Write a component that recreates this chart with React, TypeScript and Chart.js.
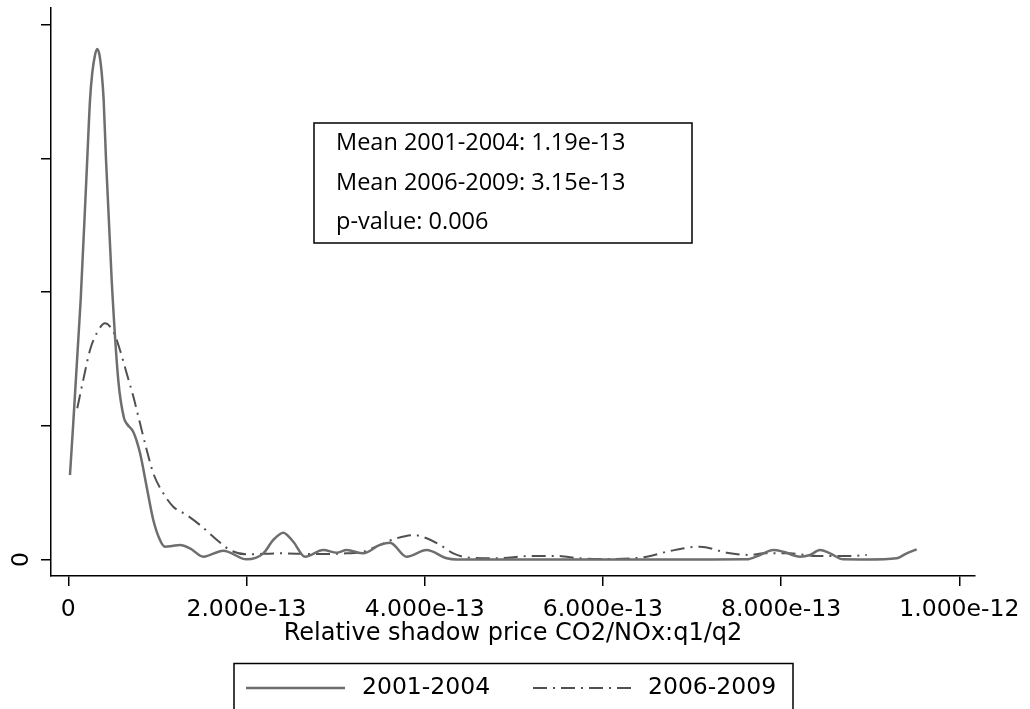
import React, { useEffect, useRef } from "react";
import { Chart, registerables } from "chart.js";

Chart.register(...registerables);

// Kernel density, 2001-2004 (x in units of 1e-13)
const SOLID_X = [
  0.019, 0.139, 0.213, 0.244, 0.269, 0.3, 0.325, 0.35, 0.375, 0.397, 0.423, 0.487,
  0.561, 0.625, 0.659, 0.73, 0.805, 0.88, 0.954, 1.029, 1.085, 1.164, 1.253, 1.366,
  1.515, 1.74, 2.002, 2.189, 2.301, 2.413, 2.525, 2.657, 2.862, 3.012, 3.125, 3.311,
  3.498, 3.611, 3.798, 4.022, 4.247, 4.359, 4.845, 5.967, 7.089, 7.614, 7.763, 7.912,
  8.025, 8.212, 8.324, 8.437, 8.549, 8.698, 8.961, 9.297, 9.41, 9.522,
];
const SOLID_Y = [
  0.632, 1.942, 2.998, 3.439, 3.641, 3.776, 3.821, 3.776, 3.641, 3.439, 2.998, 2.092,
  1.343, 1.059, 1.014, 0.954, 0.797, 0.543, 0.296, 0.146, 0.096, 0.101, 0.109, 0.084,
  0.021, 0.066, 0.001, 0.046, 0.146, 0.201, 0.133, 0.021, 0.071, 0.051, 0.071, 0.046,
  0.109, 0.126, 0.021, 0.071, 0.009, 0, 0, 0, 0, 0.001, 0.034, 0.071,
  0.058, 0.021, 0.034, 0.071, 0.046, 0.001, 0, 0.009, 0.046, 0.076,
];

// Kernel density, 2006-2009
const DASH_X = [
  0.101, 0.168, 0.244, 0.319, 0.412, 0.505, 0.58, 0.655, 0.73, 0.805, 0.88, 0.954,
  1.066, 1.178, 1.329, 1.478, 1.627, 1.815, 2.002, 2.376, 2.75, 3.125, 3.311, 3.498,
  3.686, 3.872, 4.022, 4.172, 4.321, 4.508, 4.808, 5.182, 5.481, 5.743, 6.117, 6.492,
  6.753, 7.09, 7.389, 7.651, 7.8, 8.1, 8.4, 8.774, 8.961,
];
const DASH_Y = [
  1.132, 1.344, 1.568, 1.693, 1.768, 1.705, 1.568, 1.394, 1.219, 1.019, 0.82, 0.645,
  0.496, 0.395, 0.333, 0.258, 0.171, 0.071, 0.039, 0.046, 0.041, 0.046, 0.058, 0.109,
  0.159, 0.183, 0.159, 0.109, 0.046, 0.013, 0.009, 0.026, 0.026, 0.009, 0.004, 0.021,
  0.064, 0.096, 0.051, 0.034, 0.046, 0.046, 0.026, 0.026, 0.034,
];

const SERIES_NAMES = ["2001-2004", "2006-2009"];
const X_TICKS = [0, 2, 4, 6, 8, 10];
const X_TICK_LABELS = ["0", "2.000e-13", "4.000e-13", "6.000e-13", "8.000e-13", "1.000e-12"];
const Y_TICKS = [0, 1, 2, 3, 4];
const Y_TICK_LABELS = ["0", "", "", "", ""];
const X_TITLE = "Relative shadow price CO2/NOx:q1/q2";
const BOX_LINES = ["Mean 2001-2004: 1.19e-13", "Mean 2006-2009: 3.15e-13", "p-value: 0.006"];

const AXIS_FONT = "DejaVu Sans";
const BOX_FONT = "Open Sans";

const overlayPlugin = {
  id: "overlay",
  afterDraw(chart: any) {
    const ctx: CanvasRenderingContext2D = chart.ctx;
    ctx.save();
    // statistics text box
    ctx.strokeStyle = "#000";
    ctx.lineWidth = 1.5;
    ctx.strokeRect(314, 123, 378, 120);
    ctx.fillStyle = "#000";
    ctx.font = `23.5px "${BOX_FONT}"`;
    ctx.textBaseline = "alphabetic";
    ctx.textAlign = "left";
    BOX_LINES.forEach((t, i) => ctx.fillText(t, 336, 150 + i * 39.5));

    // legend box
    ctx.lineWidth = 1.5;
    ctx.strokeRect(234, 663.5, 559, 60);
    const ds = chart.data.datasets;
    const items = [
      { x0: 246, x1: 345, tx: 362 },
      { x0: 533, x1: 632, tx: 648 },
    ];
    items.forEach((it, i) => {
      const d = ds[i];
      ctx.beginPath();
      ctx.strokeStyle = d.borderColor;
      ctx.lineWidth = d.borderWidth;
      ctx.setLineDash(d.borderDash || []);
      ctx.moveTo(it.x0, 688);
      ctx.lineTo(it.x1, 688);
      ctx.stroke();
      ctx.setLineDash([]);
      ctx.fillStyle = "#000";
      ctx.font = `23.5px "${AXIS_FONT}"`;
      ctx.textBaseline = "middle";
      ctx.fillText(SERIES_NAMES[i], it.tx, 688);
    });
    ctx.restore();
  },
};

const zeroPad = (s: any) => {
  s.paddingTop = 0;
  s.paddingBottom = 0;
  s.paddingLeft = 0;
  s.paddingRight = 0;
};

export default function App() {
  const ref = useRef<HTMLCanvasElement | null>(null);

  useEffect(() => {
    if (!ref.current) return;
    const chart = new Chart(ref.current, {
      type: "line",
      data: {
        datasets: [
          {
            label: SERIES_NAMES[0],
            data: SOLID_X.map((x, i) => ({ x, y: SOLID_Y[i] })),
            borderColor: "#6e6e6e",
            borderWidth: 2.5,
            pointRadius: 0,
            cubicInterpolationMode: "monotone",
            fill: false,
          },
          {
            label: SERIES_NAMES[1],
            data: DASH_X.map((x, i) => ({ x, y: DASH_Y[i] })),
            borderColor: "#505050",
            borderWidth: 2,
            borderDash: [14, 6, 2, 6],
            pointRadius: 0,
            cubicInterpolationMode: "monotone",
            fill: false,
          },
        ],
      },
      options: {
        responsive: false,
        animation: false,
        devicePixelRatio: 1,
        layout: { padding: { top: 8, right: 55, left: 0, bottom: 0 } },
        plugins: { legend: { display: false }, tooltip: { enabled: false } },
        scales: {
          x: {
            type: "linear",
            min: -0.194,
            max: 10.176,
            afterFit: (s: any) => {
              s.height = 133;
              zeroPad(s);
            },
            afterBuildTicks: (s: any) => {
              s.ticks = X_TICKS.map((v) => ({ value: v }));
            },
            border: { display: true, color: "#000", width: 1.5 },
            grid: { drawOnChartArea: false, drawTicks: true, tickLength: 10, color: "#000", lineWidth: 1.5 },
            ticks: {
              autoSkip: false,
              maxRotation: 0,
              minRotation: 0,
              padding: 10,
              color: "#000",
              font: { family: AXIS_FONT, size: 23.5 },
              callback: (_v: any, i: number) => X_TICK_LABELS[i],
            },
            title: {
              display: true,
              text: X_TITLE,
              color: "#000",
              font: { family: AXIS_FONT, size: 24 },
              padding: { top: 0, bottom: 61 },
            },
          },
          y: {
            type: "linear",
            min: -0.1235,
            max: 4.127,
            afterFit: (s: any) => {
              s.width = 51;
              zeroPad(s);
            },
            afterBuildTicks: (s: any) => {
              s.ticks = Y_TICKS.map((v) => ({ value: v }));
            },
            border: { display: true, color: "#000", width: 1.5 },
            grid: { drawOnChartArea: false, drawTicks: true, tickLength: 10, color: "#000", lineWidth: 1.5 },
            ticks: {
              autoSkip: false,
              minRotation: 90,
              maxRotation: 90,
              crossAlign: "center",
              padding: 12,
              color: "#000",
              font: { family: AXIS_FONT, size: 23.5 },
              callback: (_v: any, i: number) => Y_TICK_LABELS[i],
            },
          },
        },
      },
      plugins: [overlayPlugin],
    } as any);
    return () => chart.destroy();
  }, []);

  return (
    <div style={{ position: "absolute", left: 0, top: 0, width: 1030, height: 709, background: "#fff" }}>
      <canvas ref={ref} width={1030} height={709} style={{ display: "block" }} />
    </div>
  );
}
